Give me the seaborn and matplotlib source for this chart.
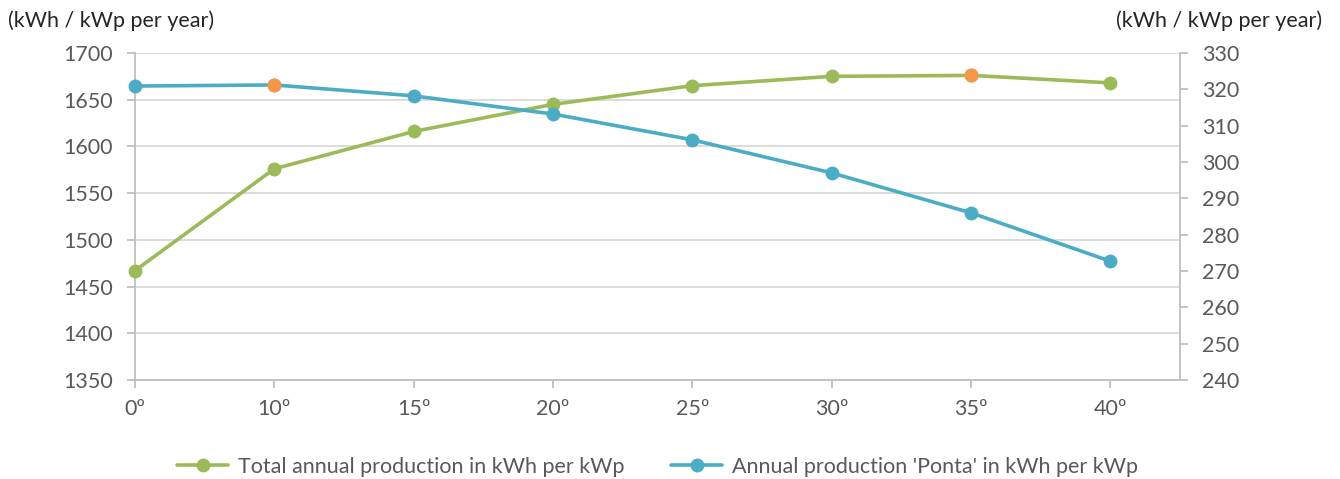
import matplotlib
matplotlib.use("Agg")
import matplotlib.pyplot as plt
from matplotlib.lines import Line2D
import seaborn as sns
import pandas as pd

# Tilt angles and yearly production figures
angles = ["0º", "10º", "15º", "20º", "25º", "30º", "35º", "40º"]
total_production = [1467, 1576, 1616, 1645, 1665, 1675, 1676, 1668]
ponta_production = [320.9, 321.2, 318.2, 313.2, 306.1, 297.0, 286.0, 272.7]
total_best = [6]   # index of the highlighted point on the total series
ponta_best = [1]   # index of the highlighted point on the 'Ponta' series

series_labels = ["Total annual production in kWh per kWp",
                 "Annual production 'Ponta' in kWh per kWp"]
unit_label = "(kWh / kWp per year)"

GREEN = "#9BBB59"
BLUE = "#4BACC6"
ORANGE = "#F79646"
GRID = "#D9D9D9"
AXIS = "#BFBFBF"
TEXT = "#595959"
FS = 15.5

sns.set_theme(style="white")
plt.rcParams["font.family"] = ["Lato", "DejaVu Sans"]

df = pd.DataFrame({
    "pos": range(len(angles)),
    "angle": angles,
    "total": total_production,
    "ponta": ponta_production,
})

fig = plt.figure(figsize=(13.4, 4.79), dpi=100)
ax = fig.add_axes([0.1007, 0.2067, 0.7799, 0.6827])
ax2 = ax.twinx()

lw = 2.6
ms = 10

sns.lineplot(data=df, x="pos", y="total", ax=ax, color=GREEN, linewidth=lw,
             marker="o", markersize=ms, markeredgewidth=0, zorder=3,
             clip_on=False)
sns.scatterplot(data=df.iloc[total_best], x="pos", y="total", ax=ax,
                color=ORANGE, s=ms ** 2, linewidth=0, zorder=4, clip_on=False)

sns.lineplot(data=df, x="pos", y="ponta", ax=ax2, color=BLUE, linewidth=lw,
             marker="o", markersize=ms, markeredgewidth=0, zorder=3,
             clip_on=False)
sns.scatterplot(data=df.iloc[ponta_best], x="pos", y="ponta", ax=ax2,
                color=ORANGE, s=ms ** 2, linewidth=0, zorder=4, clip_on=False)

ax.set_xlim(0, len(angles) - 0.5)
ax.set_ylim(1350, 1700)
ax.set_yticks(range(1350, 1701, 50))
ax2.set_ylim(240, 330)
ax2.set_yticks(range(240, 331, 10))
ax.set_xticks(df["pos"])
ax.set_xticklabels(angles)

ax.grid(axis="y", color=GRID, linewidth=1.3)
ax.set_axisbelow(True)
ax.set_xlabel("")
ax.set_ylabel("")
ax2.set_ylabel("")

for a in (ax, ax2):
    a.spines["top"].set_visible(False)
    for side in ("left", "right", "bottom"):
        a.spines[side].set_color(AXIS)
        a.spines[side].set_linewidth(1.3)
ax.spines["right"].set_visible(False)
ax2.spines["left"].set_visible(False)
ax2.spines["bottom"].set_visible(False)

ax.tick_params(axis="y", which="both", left=True, length=6, width=1.3,
               color=AXIS, labelsize=FS, labelcolor=TEXT, pad=10)
ax.tick_params(axis="x", bottom=True, length=6, width=1.3, color=AXIS,
               labelsize=FS, labelcolor=TEXT, pad=8)
ax2.tick_params(axis="y", right=True, length=6, width=1.3, color=AXIS,
                labelsize=FS, labelcolor=TEXT, pad=10)

fig.text(0.006, 0.957, unit_label, fontsize=FS, color="#262626",
         ha="left", va="center")
fig.text(0.987, 0.957, unit_label, fontsize=FS, color="#262626",
         ha="right", va="center")

handles = [
    Line2D([], [], color=GREEN, linewidth=lw, marker="o", markersize=ms,
           markeredgewidth=0),
    Line2D([], [], color=BLUE, linewidth=lw, marker="o", markersize=ms,
           markeredgewidth=0),
]
fig.legend(handles, series_labels, loc="center", bbox_to_anchor=(0.4907, 0.025),
           ncol=2, frameon=False, fontsize=FS, labelcolor=TEXT,
           handlelength=2.35, handletextpad=0.45, columnspacing=2.2)

fig.savefig("out.png", dpi=100, facecolor="white")
